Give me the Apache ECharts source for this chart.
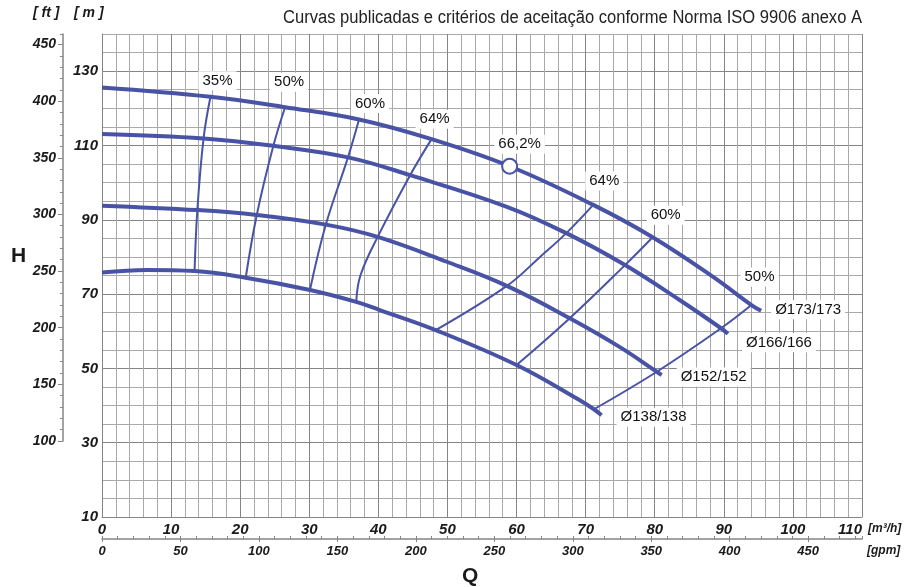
<!DOCTYPE html>
<html><head><meta charset="utf-8">
<script src="https://cdn.jsdelivr.net/npm/echarts@6/dist/echarts.min.js"></script>
<style>html,body{margin:0;padding:0;background:#fff}#c{width:921px;height:587px}</style>
</head><body><div id="c"></div>
<script>
// ---- data (Q in m3/h, H in m) ----
const qh173 = [[0,125.6],[15.7,123.1],[26.5,120.3],[37.2,117.0],[47.7,111.7],[59.0,104.4],[71.1,94.0],[79.7,85.3],[88.4,74.7],[94.0,67.05],[95.4,65.5]];
const qh166 = [[0,113.1],[14.7,111.9],[24.8,109.9],[35.6,106.8],[44.6,102.0],[58.6,93.5],[67.2,86.4],[75.7,77.8],[83.6,68.4],[89.6,60.8],[90.6,59.3]];
const qh152 = [[0,93.8],[13.8,92.6],[22.4,91.3],[32.4,88.7],[39.9,85.4],[49.9,78.7],[58.6,72.2],[67.7,63.5],[74.9,55.8],[80.3,49.1],[81.0,48.2]];
const qh138 = [[0,75.8],[6.5,76.5],[13.4,76.2],[20.8,74.4],[30.1,71.1],[36.8,67.9],[40.2,65.7],[48.3,60.3],[60.0,50.9],[69.1,41.5],[71.2,39.0],[72.3,37.4]];
const eff35  = [[13.4,76.2],[13.8,92.6],[14.7,111.9],[15.7,123.1]];
const eff50a = [[20.8,74.4],[22.4,91.3],[24.8,109.9],[26.5,120.3]];
const eff60a = [[30.1,71.1],[32.4,88.7],[35.6,106.8],[37.2,117.0]];
const eff64a = [[36.8,67.9],[37.4,75.0],[39.9,85.4],[44.6,102.0],[47.7,111.7]];
const eff64b = [[48.3,60.3],[58.6,72.2],[63.4,80.0],[67.2,86.4],[71.1,94.0]];
const eff60b = [[60.0,50.9],[67.7,63.5],[75.7,77.8],[79.7,85.3]];
const eff50b = [[71.2,39.0],[80.3,49.1],[89.6,60.8],[94.0,67.05]];
const bep = [59.0,104.4];
const effTexts = ['35%','50%','60%','64%','64%','60%','50%'];
const bepText = '66,2%';
const diaTexts = ['Ø173/173','Ø166/166','Ø152/152','Ø138/138'];
const titleText = 'Curvas publicadas e critérios de aceitação conforme Norma ISO 9906 anexo A';

// ---- layout / style ----
const BLUE = '#4853a5';
const FONT = '"Liberation Sans", Arial, Helvetica, sans-serif';
const GL = 102, GT = 34, GW = 760, GH = 483;
const H_MIN = 10, H_MAX = 140, Q_MAX = 110, FT_PER_M = 3.28084, GPM_PER_M3H = 4.402868;
const MAJ = '#858585', MIN = '#a9a9a9';
const lab = {fontFamily: FONT, fontWeight: 'bold', fontStyle: 'italic', color: '#1a1a1a'};

const diaCurves = [qh173, qh166, qh152, qh138];
const effCurves = [eff35, eff50a, eff60a, eff64a, eff64b, eff60b, eff50b];
const effOffsets = [[7,-16],[4,-25],[11,-16],[3,-20],[11,-24],[13,-22],[8,-28]];
const bepOffset = [10,-22];
const diaOffsets = [[47,-1],[51,9],[52,2],[52,2]];

const series = [];
diaCurves.forEach(d => series.push({type:'line', xAxisIndex:0, yAxisIndex:0, data:d, smooth:0.4, symbol:'none', silent:true, z:3,
  lineStyle:{color:BLUE, width:4}}));
effCurves.forEach(d => series.push({type:'line', xAxisIndex:0, yAxisIndex:0, data:d, smooth:0.4, symbol:'none', silent:true, z:2,
  lineStyle:{color:BLUE, width:2}}));
series.push({type:'scatter', xAxisIndex:0, yAxisIndex:0, data:[bep], symbol:'circle', symbolSize:15, z:6, silent:true,
  itemStyle:{color:'#fff', borderColor:BLUE, borderWidth:2, opacity:1}});
const labelData = [];
effCurves.forEach((d,i) => labelData.push({value:d[d.length-1], label:{formatter:effTexts[i], offset:effOffsets[i]}}));
labelData.push({value:bep, label:{formatter:bepText, offset:bepOffset}});
diaCurves.forEach((d,i) => labelData.push({value:d[d.length-1], label:{formatter:diaTexts[i], offset:diaOffsets[i]}}));
series.push({type:'scatter', xAxisIndex:0, yAxisIndex:0, data:labelData, symbol:'circle', symbolSize:1, z:7, silent:true,
  itemStyle:{color:'rgba(0,0,0,0)', opacity:1},
  label:{show:true, position:'inside', fontFamily:FONT, fontSize:15, color:'#111', opacity:1, textBorderWidth:0,
         backgroundColor:'#fff', padding:[2,4]}});

const ftTop = H_MAX*FT_PER_M;
const ftGridH = GH*(H_MAX - 100/FT_PER_M)/(H_MAX - H_MIN);

const option = {
  animation:false,
  backgroundColor:'#fff',
  grid:[
    {left:GL, top:GT, width:GW, height:GH},
    {left:63, top:GT, width:1, height:ftGridH},
    {left:GL, top:538, width:GW, height:1}
  ],
  xAxis:[
    {gridIndex:0, type:'value', position:'bottom', min:0, max:Q_MAX, interval:2,
     axisLine:{show:true, lineStyle:{color:MAJ, width:1}}, axisTick:{show:false},
     axisLabel:Object.assign({fontSize:15, margin:5, alignMaxLabel:'right', formatter:v => (Math.round(v)%10===0 ? String(Math.round(v)) : '')}, lab),
     splitLine:{show:true, lineStyle:{color:[MAJ,MIN,MIN,MIN,MIN], width:1}}},
    {gridIndex:1, type:'value', position:'bottom', show:false},
    {gridIndex:2, type:'value', position:'bottom', min:0, max:Q_MAX*GPM_PER_M3H, interval:10,
     axisLine:{show:true, lineStyle:{color:MAJ, width:1.5}}, axisTick:{show:true, inside:true, length:3, lineStyle:{color:MAJ}},
     axisLabel:{show:false}, splitLine:{show:false}},
    {gridIndex:2, type:'value', position:'bottom', min:0, max:Q_MAX*GPM_PER_M3H, interval:50,
     axisLine:{show:false}, axisTick:{show:true, inside:false, length:3, lineStyle:{color:MAJ}},
     axisLabel:Object.assign({fontSize:13, margin:6, showMaxLabel:false}, lab), splitLine:{show:false}}
  ],
  yAxis:[
    {gridIndex:0, type:'value', position:'left', min:H_MIN, max:H_MAX, interval:5,
     axisLine:{show:true, lineStyle:{color:MAJ, width:1}}, axisTick:{show:false},
     axisLabel:Object.assign({fontSize:15, margin:4, formatter:v => ((Math.round(v)-10)%20===0 ? String(Math.round(v)) : '')}, lab),
     splitLine:{show:true, lineStyle:{color:[MAJ,MIN,MIN,MIN], width:1}}},
    {gridIndex:1, type:'value', position:'left', min:100, max:ftTop, interval:10,
     axisLine:{show:true, lineStyle:{color:MAJ, width:1.5}}, axisTick:{show:true, length:3, lineStyle:{color:MAJ}},
     axisLabel:{show:false}, splitLine:{show:false}},
    {gridIndex:1, type:'value', position:'left', min:100, max:ftTop, interval:50,
     axisLine:{show:false}, axisTick:{show:true, length:5, lineStyle:{color:MAJ}},
     axisLabel:Object.assign({fontSize:14, margin:7, showMaxLabel:false}, lab), splitLine:{show:false}},
    {gridIndex:2, type:'value', position:'left', show:false}
  ],
  graphic:[
    {type:'text', x:862, y:18, scaleX:0.92, style:{text:titleText, fontFamily:FONT, fontSize:18, fill:'#222', align:'right', verticalAlign:'middle'}},
    {type:'text', left:33, top:6, style:{text:'[ ft ]', fontFamily:FONT, fontSize:14, fontWeight:'bold', fontStyle:'italic', fill:'#1a1a1a'}},
    {type:'text', left:74, top:6, style:{text:'[ m ]', fontFamily:FONT, fontSize:14, fontWeight:'bold', fontStyle:'italic', fill:'#1a1a1a'}},
    {type:'text', left:11, top:246, style:{text:'H', fontFamily:FONT, fontSize:21, fontWeight:'bold', fill:'#1a1a1a'}},
    {type:'text', left:462, top:566, style:{text:'Q', fontFamily:FONT, fontSize:21, fontWeight:'bold', fill:'#1a1a1a'}},
    {type:'text', left:868, top:523, style:{text:'[m³/h]', fontFamily:FONT, fontSize:12, fontWeight:'bold', fontStyle:'italic', fill:'#1a1a1a'}},
    {type:'text', left:867, top:545, style:{text:'[gpm]', fontFamily:FONT, fontSize:12, fontWeight:'bold', fontStyle:'italic', fill:'#1a1a1a'}}
  ],
  series:series
};
const chart = echarts.init(document.getElementById('c'));
chart.setOption(option);
</script>
</body></html>
